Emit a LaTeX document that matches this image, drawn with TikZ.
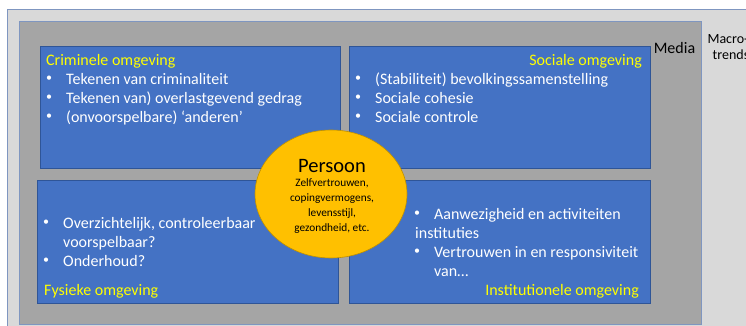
\documentclass[tikz,border=0pt]{standalone}
\usepackage{fontspec}
\setmainfont{Carlito}
\usetikzlibrary{shapes.geometric}
\definecolor{lgray}{HTML}{D9D9D9}
\definecolor{dgray}{HTML}{A5A5A5}
\definecolor{frame}{HTML}{7F96C0}
\definecolor{boxblue}{HTML}{4472C4}
\definecolor{boxedge}{HTML}{2F5597}
\definecolor{ttl}{HTML}{FFFF00}
\definecolor{pers}{HTML}{FFC000}
\definecolor{persedge}{HTML}{BF9000}
\tikzset{
  panel/.style={fill=boxblue,draw=boxedge,line width=0.6pt},
  txt/.style={anchor=base west,inner sep=0pt,text=white,font=\fontsize{16}{19}\selectfont},
  bul/.style={anchor=center,inner sep=0pt,text=white,font=\fontsize{12}{14}\selectfont},
  ttlw/.style={anchor=base west,inner sep=0pt,text=ttl,font=\fontsize{16}{19}\selectfont},
  ttle/.style={anchor=base east,inner sep=0pt,text=ttl,font=\fontsize{16}{19}\selectfont},
  blk/.style={inner sep=0pt,text=black}
}
\begin{document}
\begin{tikzpicture}[x=1pt,y=-1pt]
\useasboundingbox (0,0) rectangle (746,326);
\fill[white] (0,0) rectangle (746,326);
\draw[fill=lgray,draw=frame,line width=0.6pt] (7,9.5) rectangle (760,340);
\draw[fill=dgray,draw=frame,line width=0.6pt] (19,21) rectangle (701,324);
% panels
\draw[panel] (40,46) rectangle (340,168);
\draw[panel] (349,46) rectangle (650,168);
\draw[panel] (37,180) rectangle (338,303);
\draw[panel] (349,180) rectangle (650,303);
% Criminele
\node[ttlw] (t1) at (46,65.5) {Criminele omgeving};
\node[bul] (b11) at (49,79) {•};
\node[txt] (l11) at (66,84.5) {Tekenen van criminaliteit};
\node[bul] (b12) at (49,98) {•};
\node[txt] (l12) at (66,103.5) {Tekenen van) overlastgevend gedrag};
\node[bul] (b13) at (49,117) {•};
\node[txt] (l13) at (66,122.5) {(onvoorspelbare) ‘anderen’};
% Sociale
\node[ttle] (t2) at (642,65.5) {Sociale omgeving};
\node[bul] (b21) at (358,79) {•};
\node[txt] (l21) at (375,84.5) {(Stabiliteit) bevolkingssamenstelling};
\node[bul] (b22) at (358,98) {•};
\node[txt] (l22) at (375,103.5) {Sociale cohesie};
\node[bul] (b23) at (358,117) {•};
\node[txt] (l23) at (375,122.5) {Sociale controle};
% Fysieke
\node[bul] (b31) at (46,223) {•};
\node[txt] (l31) at (63,228.5) {Overzichtelijk, controleerbaar};
\node[txt] (l32) at (63,247.5) {voorspelbaar?};
\node[bul] (b33) at (46,261) {•};
\node[txt] (l33) at (63,266.5) {Onderhoud?};
\node[ttlw] (t3) at (44,295.5) {Fysieke omgeving};
% Institutionele
\node[bul] (b41) at (417,214) {•};
\node[txt] (l41) at (434,219.5) {Aanwezigheid en activiteiten};
\node[txt] (l42) at (415,238.5) {instituties};
\node[bul] (b43) at (417,252) {•};
\node[txt] (l43) at (434,257.5) {Vertrouwen in en responsiviteit};
\node[txt] (l44) at (434,276.5) {van…};
\node[ttle] (t4) at (639,295.5) {Institutionele omgeving};
% Persoon
\node[ellipse,fill=pers,draw=persedge,line width=0.6pt,minimum width=152pt,minimum height=128pt,inner sep=0pt] (p) at (331,194) {};
\node[blk,anchor=base,font=\fontsize{20.5}{22}\selectfont] (pt) at (332,172) {Persoon};
\node[blk,anchor=north,align=center,font=\fontsize{11.3}{15}\selectfont] (ps) at (332,178) {Zelfvertrouwen,\\copingvermogens,\\levensstijl,\\gezondheid, etc.};
% Media / Macro
\node[blk,anchor=base,font=\fontsize{16}{19}\selectfont] (m) at (674.5,54) {Media};
\node[blk,anchor=base,font=\fontsize{14}{16}\selectfont] (mt1) at (728,44) {Macro-};
\node[blk,anchor=base,font=\fontsize{14}{16}\selectfont] (mt2) at (731,60) {trends};
\end{tikzpicture}
\end{document}
